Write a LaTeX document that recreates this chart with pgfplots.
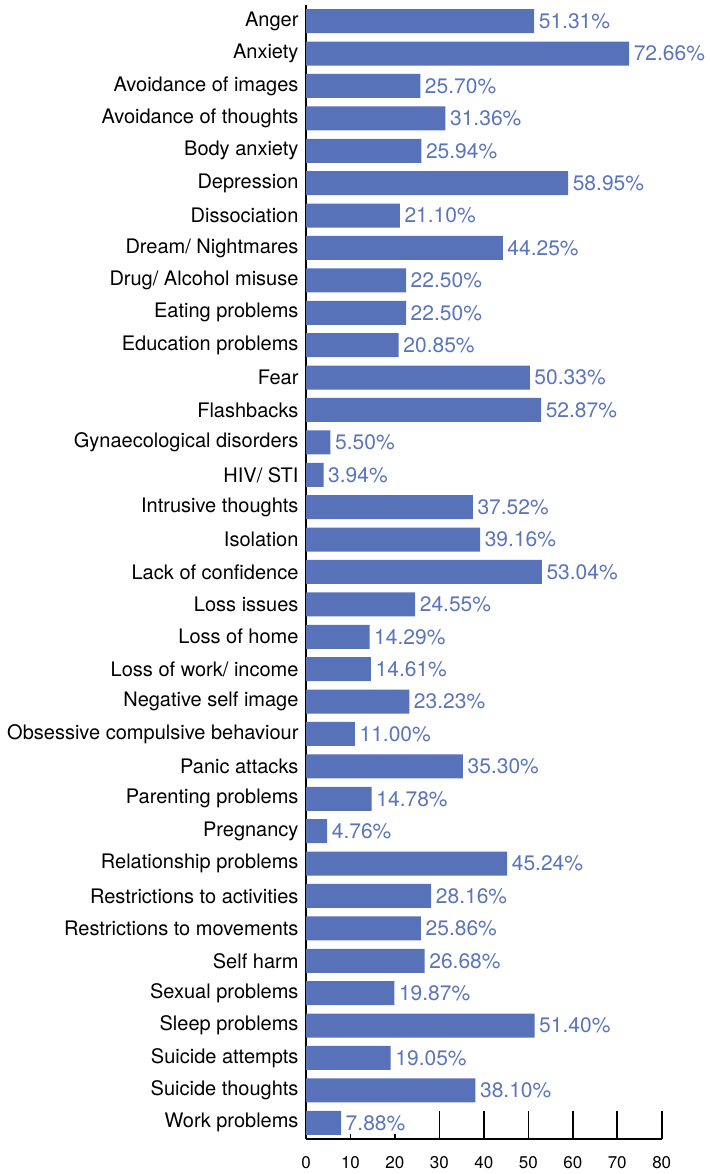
\documentclass[border=0pt]{standalone}
\usepackage{fontspec}
\setmainfont{TeX Gyre Heros}
\usepackage{pgfplots}
\pgfplotsset{compat=1.18}
\definecolor{barblue}{RGB}{87,114,184}
\definecolor{valblue}{RGB}{90,117,188}

\begin{document}
\begin{tikzpicture}
  \begin{axis}[
    name=ax,
    xbar,
    scale only axis,
    width=355.7pt, height=1134pt,
    xmin=0, xmax=80,
    ymin=-0.5, ymax=34.5,
    enlargelimits=false,
    clip=false,
    bar width=24pt,
    axis x line*=bottom,
    axis y line*=left,
    axis line style={-, line width=1.6pt, black},
    xtick={0,10,...,80},
    xtick align=inside,
    ytick align=inside,
    major tick length=28pt,
    xtick style={line width=1.6pt, black},
    ytick={0,1,...,34},
    ytick style={draw=none},
    yticklabels={Work problems,Suicide thoughts,Suicide attempts,Sleep problems,Sexual problems,Self harm,Restrictions to movements,Restrictions to activities,Relationship problems,Pregnancy,Parenting problems,Panic attacks,Obsessive compulsive behaviour,Negative self image,Loss of work/ income,Loss of home,Loss issues,Lack of confidence,Isolation,Intrusive thoughts,HIV/ STI,Gynaecological disorders,Flashbacks,Fear,Education problems,Eating problems,Drug/ Alcohol misuse,Dream/ Nightmares,Dissociation,Depression,Body anxiety,Avoidance of thoughts,Avoidance of images,Anxiety,Anger},
    yticklabel style={font=\fontsize{20}{22}\selectfont, xshift=-4pt},
    xticklabel style={font=\fontsize{17}{19}\selectfont, yshift=-14pt},
    /pgf/number format/assume math mode=true,
    point meta=x,
    nodes near coords={\pgfmathprintnumber[fixed,fixed zerofill,precision=2]{\pgfplotspointmeta}\%},
    nodes near coords style={font=\fontsize{21}{23}\selectfont, text=valblue,
      fill=white, inner xsep=1.5pt, inner ysep=4pt, anchor=west, xshift=3pt},
  ]
  % percentages, bottom row first
  \addplot[fill=barblue, draw=none] coordinates {
    (7.88,0) (38.10,1) (19.05,2) (51.40,3) (19.87,4) (26.68,5)
    (25.86,6) (28.16,7) (45.24,8) (4.76,9) (14.78,10) (35.30,11)
    (11.00,12) (23.23,13) (14.61,14) (14.29,15) (24.55,16) (53.04,17)
    (39.16,18) (37.52,19) (3.94,20) (5.50,21) (52.87,22) (50.33,23)
    (20.85,24) (22.50,25) (22.50,26) (44.25,27) (21.10,28) (58.95,29)
    (25.94,30) (31.36,31) (25.70,32) (72.66,33) (51.31,34)
  };
  \end{axis}
  \pgfresetboundingbox
  \path ([xshift=-306pt,yshift=-35pt]ax.south west)
    rectangle ([xshift=47.3pt,yshift=5pt]ax.north east);
\end{tikzpicture}
\end{document}
